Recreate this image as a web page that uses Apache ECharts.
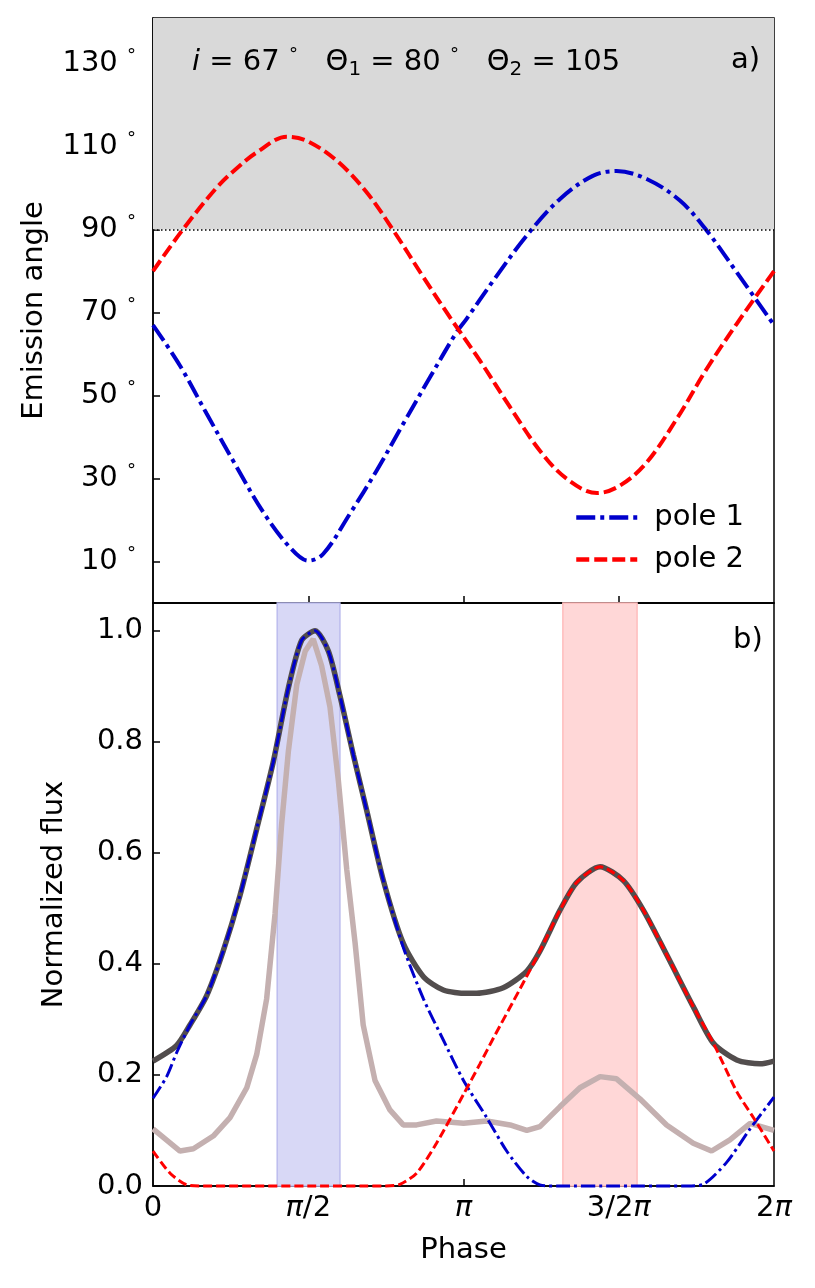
<!DOCTYPE html>
<html>
<head>
<meta charset="utf-8">
<script src="https://cdn.jsdelivr.net/npm/echarts@6/dist/echarts.min.js"></script>
<style>
  html, body { margin: 0; padding: 0; background: #fff; }
  #chart { width: 815px; height: 1288px; }
</style>
</head>
<body>
<div id="chart"></div>
<script>
// phase is in units of pi (0..2)
const phase1 = [0, 0.087, 0.173, 0.264, 0.355, 0.441, 0.5, 0.548, 0.634, 0.72, 0.806, 0.892, 0.978, 1.01, 1.096, 1.204, 1.311, 1.418, 1.493, 1.59, 1.697, 1.783, 1.88, 2.0];
const angle1 = [67, 57.2, 45.6, 33.5, 21.9, 13.4, 10.2, 11.8, 21.5, 31.9, 43.2, 54.4, 65.3, 68.5, 77.7, 88.6, 97.4, 103, 104.1, 102.2, 97, 89.8, 79.7, 67];

const phase2 = [0, 0.098, 0.206, 0.27, 0.334, 0.431, 0.495, 0.592, 0.688, 0.774, 0.871, 0.956, 1.053, 1.15, 1.246, 1.333, 1.43, 1.504, 1.59, 1.687, 1.783, 1.88, 2.0];
const angle2 = [80, 90.2, 100.2, 104.8, 108.6, 112.4, 111.4, 106.6, 99, 89.8, 78.5, 68.9, 58.4, 47.2, 36.7, 29.9, 26.5, 28.3, 33.9, 44.4, 56.4, 67.3, 80];

const totalPhase = [0, 0.076, 0.119, 0.173, 0.226, 0.28, 0.334, 0.387, 0.436, 0.479, 0.522, 0.565, 0.602, 0.645, 0.688, 0.742, 0.806, 0.871, 0.935, 1.01, 1.042, 1.128, 1.204, 1.246, 1.311, 1.365, 1.44, 1.515, 1.579, 1.654, 1.74, 1.805, 1.88, 1.955, 2.0];
const totalFlux = [0.225, 0.253, 0.29, 0.343, 0.423, 0.523, 0.643, 0.763, 0.897, 0.983, 1.0, 0.963, 0.883, 0.777, 0.677, 0.55, 0.437, 0.377, 0.353, 0.347, 0.347, 0.357, 0.387, 0.423, 0.497, 0.547, 0.575, 0.55, 0.497, 0.417, 0.323, 0.257, 0.227, 0.22, 0.225];

const flux1Phase = [0, 0.044, 0.076, 0.119, 0.173, 0.226, 0.28, 0.334, 0.387, 0.436, 0.479, 0.522, 0.565, 0.602, 0.645, 0.688, 0.742, 0.806, 0.871, 0.935, 1.0, 1.075, 1.139, 1.204, 1.246, 1.3, 1.5, 1.72, 1.772, 1.848, 1.923, 2.0];
const flux1 = [0.158, 0.197, 0.24, 0.29, 0.343, 0.423, 0.523, 0.643, 0.763, 0.897, 0.983, 1.0, 0.963, 0.883, 0.777, 0.677, 0.55, 0.43, 0.337, 0.263, 0.19, 0.123, 0.063, 0.017, 0.002, 0, 0, 0, 0.003, 0.043, 0.103, 0.16];

const flux2Phase = [0, 0.055, 0.109, 0.16, 0.5, 0.75, 0.795, 0.849, 0.913, 1.0, 1.053, 1.096, 1.182, 1.246, 1.311, 1.365, 1.44, 1.515, 1.579, 1.654, 1.74, 1.805, 1.88, 1.934, 2.0];
const flux2 = [0.063, 0.023, 0.002, 0, 0, 0, 0.003, 0.023, 0.077, 0.165, 0.22, 0.266, 0.355, 0.423, 0.497, 0.547, 0.575, 0.55, 0.497, 0.417, 0.323, 0.257, 0.17, 0.123, 0.063];

const beamPhase = [0, 0.087, 0.13, 0.194, 0.248, 0.302, 0.334, 0.366, 0.393, 0.414, 0.436, 0.463, 0.49, 0.516, 0.543, 0.57, 0.597, 0.624, 0.651, 0.677, 0.715, 0.763, 0.806, 0.849, 0.913, 1.0, 1.075, 1.15, 1.204, 1.246, 1.311, 1.375, 1.44, 1.493, 1.568, 1.654, 1.74, 1.799, 1.858, 1.923, 2.0];
const beamFlux = [0.103, 0.063, 0.067, 0.09, 0.123, 0.177, 0.237, 0.337, 0.49, 0.65, 0.783, 0.903, 0.963, 0.985, 0.937, 0.863, 0.73, 0.57, 0.437, 0.29, 0.19, 0.137, 0.11, 0.11, 0.117, 0.113, 0.117, 0.11, 0.1, 0.107, 0.143, 0.177, 0.197, 0.193, 0.157, 0.11, 0.077, 0.063, 0.083, 0.113, 0.1];

const blueBand = [0.4, 0.602];
const redBand = [1.32, 1.559];

const angleTicks = [10, 30, 50, 70, 90, 110, 130];
const fluxTicks = [0, 0.2, 0.4, 0.6, 0.8, 1.0];
const phaseTicks = [0, 0.5, 1, 1.5, 2];
const phaseLabels = { 0: '0', 0.5: '{i|π}/2', 1: '{i|π}', 1.5: '3/2{i|π}', 2: '2{i|π}' };

const zip = (xs, ys) => xs.map((x, k) => [x, ys[k]]);

const FONT = 'DejaVu Sans';
const FS = 29;
const axisLine = { show: true, lineStyle: { color: '#000', width: 1.5 } };
const tick = { show: true, inside: true, length: 7, lineStyle: { color: '#000', width: 1.5 } };

const chart = echarts.init(document.getElementById('chart'));

chart.setOption({
  animation: false,
  backgroundColor: '#fff',
  textStyle: { fontFamily: FONT },
  title: [
    {
      text: '{it|i} = 67 {d|°}   Θ{sub|1} = 80 {d|°}   Θ{sub|2} = 105',
      left: 187, top: 40,
      textStyle: {
        fontFamily: FONT, fontSize: FS, fontWeight: 'normal', color: '#000',
        rich: {
          it: { fontFamily: FONT, fontSize: FS, fontStyle: 'italic' },
          sub: { fontFamily: FONT, fontSize: 20, padding: [15, 0, 0, 0] },
          d: { fontFamily: FONT, fontSize: 18, padding: [0, 0, 14, 0] }
        }
      }
    },
    {
      text: 'a)', left: 726, top: 41,
      textStyle: { fontFamily: FONT, fontSize: FS, fontWeight: 'normal', color: '#000' }
    },
    {
      text: 'b)', left: 728, top: 621,
      textStyle: { fontFamily: FONT, fontSize: FS, fontWeight: 'normal', color: '#000' }
    }
  ],
  legend: {
    data: ['pole 1', 'pole 2'],
    orient: 'vertical',
    left: 569, top: 498,
    itemWidth: 61, itemHeight: 14, itemGap: 13,
    itemStyle: { opacity: 0 },
    lineStyle: { width: 4.5 },
    textStyle: { fontFamily: FONT, fontSize: FS, color: '#000', padding: [0, 0, 0, 12] }
  },
  grid: [
    { left: 153, right: 41, top: 18, height: 585, show: true, borderColor: '#000', borderWidth: 1.5 },
    { left: 153, right: 41, top: 603, height: 583, show: true, borderColor: '#000', borderWidth: 1.5 }
  ],
  xAxis: [
    {
      gridIndex: 0, type: 'value', min: 0, max: 2,
      axisLine, axisTick: Object.assign({ customValues: [0.5, 1, 1.5] }, tick),
      axisLabel: { show: false }, splitLine: { show: false }
    },
    {
      gridIndex: 1, type: 'value', min: 0, max: 2,
      name: 'Phase', nameLocation: 'middle', nameGap: 50,
      nameTextStyle: { fontFamily: FONT, fontSize: FS, color: '#000' },
      axisLine, axisTick: Object.assign({ customValues: [0.5, 1, 1.5] }, tick),
      axisLabel: {
        customValues: phaseTicks, margin: 8,
        fontFamily: FONT, fontSize: FS, color: '#000',
        formatter: v => phaseLabels[v],
        rich: { i: { fontFamily: FONT, fontSize: FS, fontStyle: 'italic' } }
      },
      splitLine: { show: false }
    }
  ],
  yAxis: [
    {
      gridIndex: 0, type: 'value', min: 0, max: 141,
      name: 'Emission angle', nameLocation: 'middle', nameGap: 104,
      nameTextStyle: { fontFamily: FONT, fontSize: FS, color: '#000' },
      axisLine, axisTick: Object.assign({ customValues: angleTicks }, tick),
      axisLabel: {
        customValues: angleTicks, margin: 17,
        fontFamily: FONT, fontSize: FS, color: '#000',
        formatter: v => v + ' {d|°}',
        rich: { d: { fontFamily: FONT, fontSize: 18, padding: [0, 0, 14, 0] } }
      },
      splitLine: { show: false }
    },
    {
      gridIndex: 1, type: 'value', min: 0, max: 1.05,
      name: 'Normalized flux', nameLocation: 'middle', nameGap: 84,
      nameTextStyle: { fontFamily: FONT, fontSize: FS, color: '#000' },
      axisLine, axisTick: Object.assign({ customValues: fluxTicks }, tick),
      axisLabel: {
        customValues: fluxTicks, margin: 10,
        fontFamily: FONT, fontSize: FS, color: '#000',
        formatter: v => v.toFixed(1)
      },
      splitLine: { show: false }
    }
  ],
  series: [
    {
      name: 'pole 1', type: 'line', xAxisIndex: 0, yAxisIndex: 0,
      data: zip(phase1, angle1), smooth: 0.35, showSymbol: false, symbol: 'none',
      color: '#0000cc',
      lineStyle: { color: '#0000cc', width: 4, type: [19, 5, 4, 5] },
      markArea: {
        silent: true,
        itemStyle: { color: '#d9d9d9' },
        data: [[{ yAxis: 90 }, { yAxis: 141 }]]
      },
      markLine: {
        silent: true, symbol: 'none',
        label: { show: false },
        lineStyle: { color: '#000', width: 1.5, type: [1.5, 2.5] },
        data: [{ yAxis: 90 }]
      }
    },
    {
      name: 'pole 2', type: 'line', xAxisIndex: 0, yAxisIndex: 0,
      data: zip(phase2, angle2), smooth: 0.35, showSymbol: false, symbol: 'none',
      color: '#ff0000',
      lineStyle: { color: '#ff0000', width: 4, type: [13, 5] }
    },
    {
      name: 'beam', type: 'line', xAxisIndex: 1, yAxisIndex: 1,
      data: zip(beamPhase, beamFlux), showSymbol: false, symbol: 'none',
      lineStyle: { color: '#c4b0b0', width: 5.5 },
      markArea: {
        silent: true,
        data: [
          [{ xAxis: blueBand[0], itemStyle: { color: '#d8d8f6', borderColor: '#bcbcee', borderWidth: 1.5 } }, { xAxis: blueBand[1] }],
          [{ xAxis: redBand[0], itemStyle: { color: '#ffd7d7', borderColor: '#ffbcbc', borderWidth: 1.5 } }, { xAxis: redBand[1] }]
        ]
      }
    },
    {
      name: 'total', type: 'line', xAxisIndex: 1, yAxisIndex: 1,
      data: zip(totalPhase, totalFlux), smooth: 0.25, showSymbol: false, symbol: 'none',
      lineStyle: { color: '#524d4d', width: 5.5 }
    },
    {
      name: 'flux pole 1', type: 'line', xAxisIndex: 1, yAxisIndex: 1,
      data: zip(flux1Phase, flux1), smooth: 0.25, showSymbol: false, symbol: 'none',
      clip: false,
      lineStyle: { color: '#0000cc', width: 3, type: [14, 4, 3, 4] }
    },
    {
      name: 'flux pole 2', type: 'line', xAxisIndex: 1, yAxisIndex: 1,
      data: zip(flux2Phase, flux2), smooth: 0.25, showSymbol: false, symbol: 'none',
      clip: false,
      lineStyle: { color: '#ff0000', width: 3, type: [9, 4] }
    }
  ]
});
</script>
</body>
</html>
